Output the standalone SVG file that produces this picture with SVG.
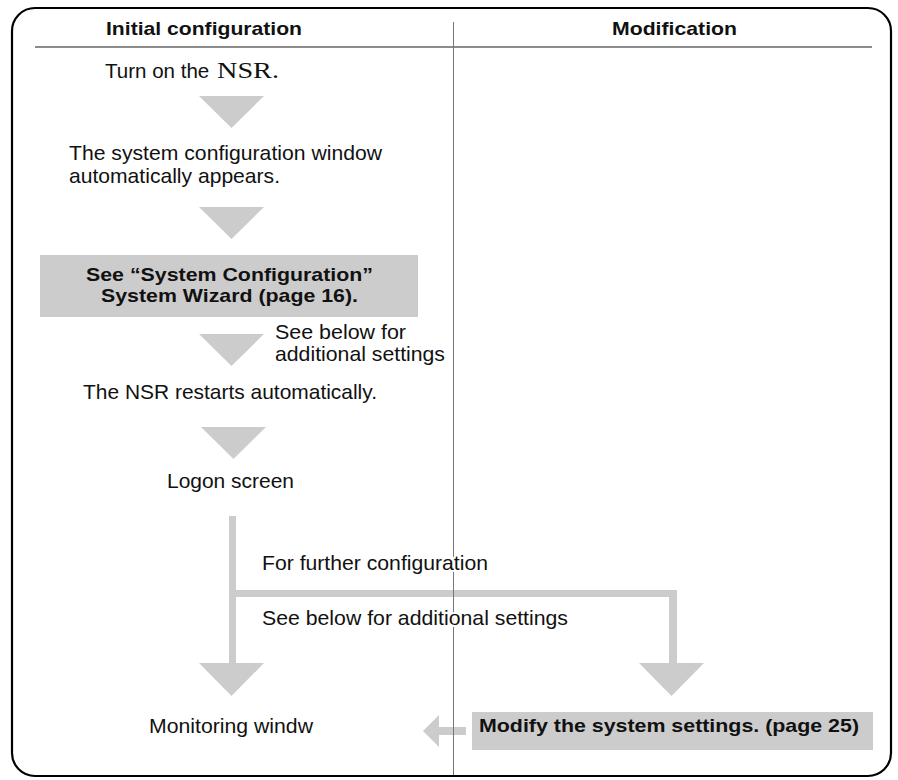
<svg xmlns="http://www.w3.org/2000/svg" width="898" height="780" viewBox="0 0 898 780">
<style>
  .frame{fill:none;stroke:#000;stroke-width:2.2}
  .hdr{stroke:#666;stroke-width:1.6}
  .div{stroke:#777;stroke-width:1}
  .t{font-family:"Liberation Sans",Arial,sans-serif;font-size:21px;fill:#111}
  .b{font-family:"Liberation Sans",Arial,sans-serif;font-size:19px;font-weight:bold;fill:#111}
  .halo{stroke:#fff;stroke-width:4;paint-order:stroke;stroke-linejoin:round}
  .g{fill:#cccccc}
</style>
<rect class="frame" x="12" y="8" width="879" height="768" rx="23" ry="23"/>
<line class="hdr" x1="35" y1="47" x2="872" y2="47"/>

<g id="connectors">
  <polygon class="g" points="199,96 264,96 231.5,128"/>
  <polygon class="g" points="199,207 264,207 231.5,239"/>
  <polygon class="g" points="199,334 264,334 231.5,366"/>
  <polygon class="g" points="201,427 266,427 233.5,459"/>
  <rect class="g" x="229" y="516" width="7" height="148"/>
  <polygon class="g" points="199,663 264,663 231.5,696"/>
  <rect class="g" x="235" y="590" width="442" height="7"/>
  <rect class="g" x="669" y="590" width="8" height="74"/>
  <polygon class="g" points="639,663 704,663 671.5,696"/>
  <rect class="g" x="439" y="727" width="27" height="8"/>
  <polygon class="g" points="423,731 439,715 439,747"/>
</g>

<line class="div" x1="453.5" y1="22" x2="453.5" y2="775"/>

<g id="headers">
  <text class="b" x="106" y="35" textLength="196" lengthAdjust="spacingAndGlyphs">Initial configuration</text>
  <text class="b" x="612" y="35" textLength="125" lengthAdjust="spacingAndGlyphs">Modification</text>
</g>

<g id="n1">
  <text class="t" x="105" y="78"><tspan textLength="110" lengthAdjust="spacingAndGlyphs">Turn on the </tspan><tspan x="217" font-family="'Liberation Serif','Times New Roman',serif" font-size="24" textLength="62" lengthAdjust="spacingAndGlyphs">NSR.</tspan></text>
</g>

<g id="n2">
  <text class="t" x="69" y="160" textLength="313" lengthAdjust="spacingAndGlyphs">The system configuration window</text>
  <text class="t" x="69" y="183" textLength="211" lengthAdjust="spacingAndGlyphs">automatically appears.</text>
</g>

<g id="n3">
  <rect class="g" x="40" y="255" width="378" height="62"/>
  <text class="b" x="86" y="281" textLength="287" lengthAdjust="spacingAndGlyphs">See “System Configuration”</text>
  <text class="b" x="101" y="302" textLength="257" lengthAdjust="spacingAndGlyphs">System Wizard (page 16).</text>
</g>

<g id="n3note">
  <text class="t" x="275" y="339" textLength="131" lengthAdjust="spacingAndGlyphs">See below for</text>
  <text class="t" x="275" y="361" textLength="170" lengthAdjust="spacingAndGlyphs">additional settings</text>
</g>

<g id="n4">
  <text class="t" x="83" y="399" textLength="294" lengthAdjust="spacingAndGlyphs">The NSR restarts automatically.</text>
</g>

<g id="n5">
  <text class="t" x="167" y="488" textLength="127" lengthAdjust="spacingAndGlyphs">Logon screen</text>
</g>

<g id="labels">
  <text class="t halo" x="262" y="570" textLength="226" lengthAdjust="spacingAndGlyphs">For further configuration</text>
  <text class="t halo" x="262" y="625" textLength="306" lengthAdjust="spacingAndGlyphs">See below for additional settings</text>
</g>

<g id="n6">
  <text class="t" x="149" y="733" textLength="164" lengthAdjust="spacingAndGlyphs">Monitoring windw</text>
</g>

<g id="n7">
  <rect class="g" x="472" y="712" width="401" height="38"/>
  <text class="b" x="479" y="732" textLength="380" lengthAdjust="spacingAndGlyphs">Modify the system settings. (page 25)</text>
</g>
</svg>
